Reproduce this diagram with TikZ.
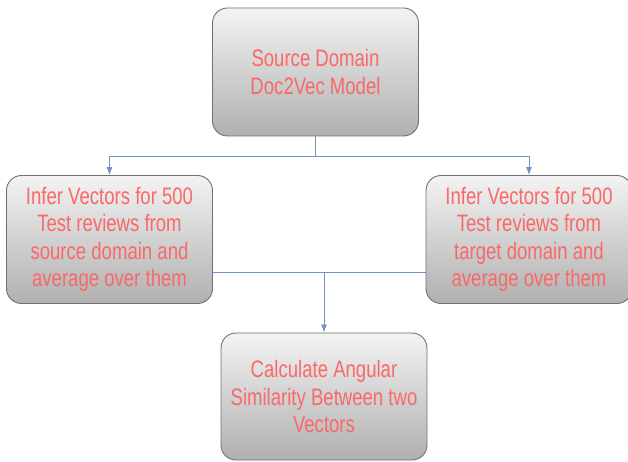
\documentclass[tikz,border=0pt]{standalone}
\usepackage{fontspec}
\setmainfont[FakeStretch=0.78]{Liberation Sans}
\usetikzlibrary{arrows.meta}
\definecolor{boxtext}{RGB}{250,104,104}
\definecolor{boxline}{RGB}{112,112,112}
\definecolor{boxtop}{RGB}{243,243,243}
\definecolor{boxbot}{RGB}{176,176,176}
\definecolor{linkblue}{RGB}{112,146,196}

\begin{document}
\begin{tikzpicture}[x=1pt,y=1pt,
  box/.style={draw=boxline,line width=0.9pt,rounded corners=15pt,
    top color=boxtop,bottom color=boxbot,
    minimum width=206pt,minimum height=128pt,inner sep=0pt,
    text=boxtext,align=center,font=\fontsize{23.8}{27.4}\selectfont},
  link/.style={draw=linkblue,line width=0.8pt},
  tip/.style={-{Latex[length=8pt,width=6pt]}}]
  \useasboundingbox (0,0) rectangle (628,461);
  \node[box] (src) at (315.5,389) {Source Domain\\Doc2Vec Model};
  \node[box] (infs) at (109.5,221.5) {Infer Vectors for 500\\Test reviews from\\source domain and\\average over them};
  \node[box] (inft) at (529,221.5) {Infer Vectors for 500\\Test reviews from\\target domain and\\average over them};
  \node[box,minimum height=127pt] (calc) at (324,64.5) {Calculate Angular\\Similarity Between two\\Vectors};
  \coordinate (split) at (315.5,305);
  \coordinate (join) at (324,189);
  \draw[link] (src.south) -- (split);
  \draw[link,tip] (split) -| (infs.north);
  \draw[link,tip] (split) -| (inft.north);
  \draw[link] (infs.east |- join) -- (inft.west |- join);
  \draw[link,tip] (join) -- (calc.north);
\end{tikzpicture}
\end{document}
